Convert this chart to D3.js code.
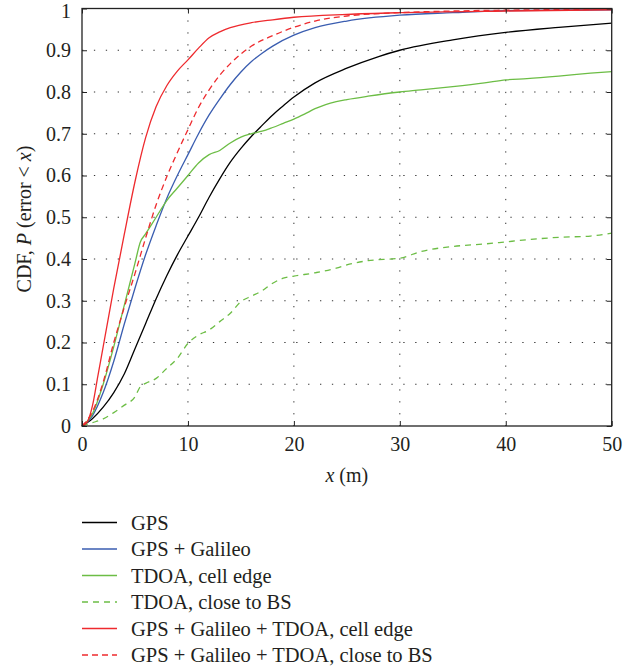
<!DOCTYPE html>
<html><head><meta charset="utf-8">
<script src="https://cdn.jsdelivr.net/npm/d3@7/dist/d3.min.js"></script>
<style>body{margin:0;background:#fff}svg{display:block}</style>
</head><body><svg id="chart" width="632" height="667"></svg>
<script>
// ---------- data ----------
const xTicks = [0, 10, 20, 30, 40, 50];
const yTicks = [0, 0.1, 0.2, 0.3, 0.4, 0.5, 0.6, 0.7, 0.8, 0.9, 1];
const yTickLabels = ["0", "0.1", "0.2", "0.3", "0.4", "0.5", "0.6", "0.7", "0.8", "0.9", "1"];
const seriesNames = ["GPS", "GPS + Galileo", "TDOA, cell edge", "TDOA, close to BS",
  "GPS + Galileo + TDOA, cell edge", "GPS + Galileo + TDOA, close to BS"];

const gpsX = [0, 1, 2, 3, 4, 5, 6, 7, 8, 9, 10, 11, 12, 13, 14, 15, 16, 17, 18, 19, 20, 22, 25, 28, 30, 35, 40, 45, 50];
const gpsP = [0, 0.018, 0.045, 0.08, 0.125, 0.185, 0.245, 0.305, 0.36, 0.41, 0.455, 0.5, 0.548, 0.592, 0.632, 0.665, 0.694, 0.72, 0.745, 0.767, 0.788, 0.822, 0.857, 0.885, 0.9, 0.925, 0.943, 0.955, 0.965];

const galX = [0, 1, 2, 3, 4, 5, 6, 7, 8, 9, 10, 11, 12, 13, 14, 15, 16, 17, 18, 20, 22, 25, 30, 35, 40, 50];
const galP = [0, 0.025, 0.08, 0.155, 0.245, 0.33, 0.41, 0.48, 0.545, 0.6, 0.65, 0.7, 0.745, 0.783, 0.818, 0.848, 0.873, 0.893, 0.91, 0.936, 0.954, 0.97, 0.984, 0.99, 0.995, 0.997];

const tdoaEdgeX = [0, 1, 2, 3, 4, 5, 5.5, 6, 7, 8, 9, 10, 11, 12, 13, 14, 15, 16, 17, 18, 19, 20, 21, 22, 23, 24, 25, 27, 30, 32, 35, 38, 40, 42, 45, 48, 50];
const tdoaEdgeP = [0, 0.03, 0.1, 0.19, 0.29, 0.39, 0.44, 0.46, 0.5, 0.54, 0.57, 0.6, 0.63, 0.65, 0.66, 0.678, 0.692, 0.7, 0.706, 0.715, 0.725, 0.735, 0.747, 0.76, 0.77, 0.777, 0.782, 0.79, 0.8, 0.805, 0.813, 0.822, 0.829, 0.832, 0.838, 0.845, 0.849];

const tdoaBsX = [0, 1, 2, 3, 4, 5, 5.5, 6, 7, 8, 9, 10, 11, 12, 13, 14, 15, 16, 17, 18, 19, 20, 22, 24, 25, 27, 30, 32, 35, 38, 40, 42, 45, 48, 50];
const tdoaBsP = [0, 0.008, 0.017, 0.032, 0.05, 0.07, 0.094, 0.102, 0.114, 0.138, 0.162, 0.198, 0.218, 0.23, 0.25, 0.27, 0.298, 0.311, 0.324, 0.342, 0.354, 0.359, 0.367, 0.378, 0.386, 0.396, 0.402, 0.418, 0.43, 0.436, 0.441, 0.446, 0.452, 0.455, 0.462];

const fusEdgeX = [0, 0.5, 1, 1.5, 2, 3, 4, 5, 6, 7, 8, 9, 10, 11, 12, 13, 14, 16, 18, 20, 25, 30, 40, 50];
const fusEdgeP = [0, 0.01, 0.05, 0.12, 0.19, 0.33, 0.46, 0.585, 0.69, 0.765, 0.815, 0.85, 0.877, 0.905, 0.93, 0.944, 0.954, 0.966, 0.973, 0.979, 0.986, 0.99, 0.994, 0.997];

const fusBsX = [0, 1, 2, 3, 4, 5, 6, 7, 8, 9, 10, 11, 12, 13, 14, 15, 16, 18, 20, 22, 25, 30, 35, 40, 50];
const fusBsP = [0, 0.035, 0.105, 0.2, 0.285, 0.365, 0.45, 0.53, 0.597, 0.655, 0.71, 0.763, 0.805, 0.84, 0.868, 0.891, 0.91, 0.935, 0.955, 0.97, 0.982, 0.99, 0.994, 0.996, 0.998];

// ---------- chart ----------
const svg = d3.select("#chart");
const pLeft = 82, pRight = 611.7, pTop = 8.5, pBottom = 426;
const x = d3.scaleLinear().domain([0, 50]).range([pLeft, pRight]);
const y = d3.scaleLinear().domain([0, 1]).range([pBottom, pTop]);
const FONT = "'Liberation Serif', 'DejaVu Serif', serif";
const TXT = "#231f20";

const series = [
  {name: seriesNames[0], xs: gpsX, ps: gpsP, color: "#000000", dash: null},
  {name: seriesNames[1], xs: galX, ps: galP, color: "#3a5db0", dash: null},
  {name: seriesNames[2], xs: tdoaEdgeX, ps: tdoaEdgeP, color: "#6cbd45", dash: null},
  {name: seriesNames[3], xs: tdoaBsX, ps: tdoaBsP, color: "#6cbd45", dash: "6,5"},
  {name: seriesNames[4], xs: fusEdgeX, ps: fusEdgeP, color: "#ee2a2e", dash: null},
  {name: seriesNames[5], xs: fusBsX, ps: fusBsP, color: "#ee2a2e", dash: "6,4"}
];

// grid
const g = svg.append("g");
g.selectAll(".vg").data(xTicks.slice(1, -1)).enter().append("line")
  .attr("x1", d => x(d)).attr("x2", d => x(d)).attr("y1", pTop).attr("y2", pBottom)
  .attr("stroke", "#333").attr("stroke-width", 1).attr("stroke-dasharray", "1.3,10.6");
g.selectAll(".hg").data(yTicks.slice(1, -1)).enter().append("line")
  .attr("x1", pLeft).attr("x2", pRight).attr("y1", d => y(d)).attr("y2", d => y(d))
  .attr("stroke", "#333").attr("stroke-width", 1).attr("stroke-dasharray", "1.3,10.6");

// curves
const line = d3.line().x(d => x(d[0])).y(d => y(d[1])).curve(d3.curveMonotoneX);
series.forEach(s => {
  const pts = s.xs.map((v, i) => [v, s.ps[i]]);
  svg.append("path").datum(pts).attr("d", line).attr("fill", "none")
    .attr("stroke", s.color).attr("stroke-width", 1.3)
    .attr("stroke-dasharray", s.dash);
});

// axes (ticks inward on all sides)
const tickStyle = sel => {
  sel.select(".domain").remove();
  sel.selectAll(".tick line").attr("stroke", "#222").attr("stroke-width", 1);
  sel.selectAll("text").attr("font-family", FONT).attr("font-size", 20).attr("fill", TXT);
};
svg.append("g").attr("transform", `translate(0,${pBottom})`)
  .call(d3.axisBottom(x).tickValues(xTicks).tickSizeInner(-5).tickSizeOuter(0).tickPadding(11))
  .call(tickStyle);
svg.append("g").attr("transform", `translate(0,${pTop})`)
  .call(d3.axisTop(x).tickValues(xTicks).tickSizeInner(-5).tickSizeOuter(0).tickFormat(""))
  .call(tickStyle);
const yAxisG = svg.append("g").attr("transform", `translate(${pLeft},0)`)
  .call(d3.axisLeft(y).tickValues(yTicks).tickFormat((d, i) => yTickLabels[i]).tickSizeInner(-5).tickSizeOuter(0).tickPadding(11))
  .call(tickStyle);
// keep the top label inside the picture
yAxisG.selectAll(".tick text").filter(d => d === 1).attr("y", 2.5);
svg.append("g").attr("transform", `translate(${pRight},0)`)
  .call(d3.axisRight(y).tickValues(yTicks).tickSizeInner(-5).tickSizeOuter(0).tickFormat(""))
  .call(tickStyle);
svg.append("rect").attr("x", pLeft).attr("y", pTop).attr("width", pRight - pLeft).attr("height", pBottom - pTop)
  .attr("fill", "none").attr("stroke", "#222").attr("stroke-width", 1.3);

// axis titles
const xt = svg.append("text").attr("x", (pLeft + pRight) / 2).attr("y", 482)
  .attr("text-anchor", "middle").attr("font-family", FONT).attr("font-size", 20).attr("fill", TXT);
xt.append("tspan").attr("font-style", "italic").text("x");
xt.append("tspan").text(" (m)");

const yt = svg.append("text").attr("transform", `translate(31,219) rotate(-90)`)
  .attr("text-anchor", "middle").attr("font-family", FONT).attr("font-size", 20).attr("fill", TXT);
yt.append("tspan").text("CDF, ");
yt.append("tspan").attr("font-style", "italic").text("P");
yt.append("tspan").text(" (error < ");
yt.append("tspan").attr("font-style", "italic").text("x");
yt.append("tspan").text(")");

// legend
const leg = svg.append("g");
series.forEach((s, i) => {
  const ry = 522.5 + i * 26.5;
  leg.append("line").attr("x1", 82).attr("x2", 117).attr("y1", ry).attr("y2", ry)
    .attr("stroke", s.color).attr("stroke-width", 1.3).attr("stroke-dasharray", s.dash);
  leg.append("text").attr("x", 131).attr("y", ry).attr("dy", "0.35em")
    .attr("font-family", FONT).attr("font-size", 20.5).attr("fill", TXT).text(s.name);
});
</script></body></html>
